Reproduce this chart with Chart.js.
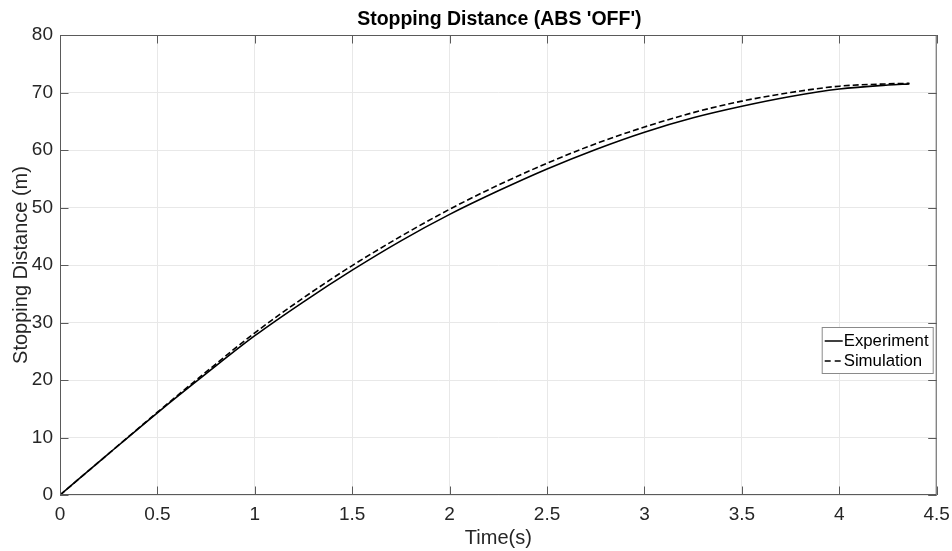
<!DOCTYPE html>
<html>
<head>
<meta charset="utf-8">
<script src="https://cdn.jsdelivr.net/npm/chart.js@4/dist/chart.umd.min.js"></script>
<style>
    html, body { margin: 0; padding: 0; background: #fff; }
</style>
</head>
<body>
<canvas id="stopChart" width="952" height="551"></canvas>
<script>
// data
const timeS = [0, 0.25, 0.5, 0.75, 1.0, 1.25, 1.5, 1.75, 2.0, 2.25, 2.5, 2.75, 3.0, 3.25, 3.5, 3.75, 4.0, 4.25, 4.36];
const experiment = [0, 7.2, 14.3, 21.1, 27.7, 33.6, 39.1, 44.2, 48.8, 52.9, 56.7, 60.1, 63.1, 65.6, 67.6, 69.3, 70.6, 71.3, 71.5];
const simulation = [0, 7.2, 14.4, 21.4, 28.2, 34.3, 39.9, 45.0, 49.7, 53.9, 57.7, 61.1, 64.0, 66.5, 68.5, 70.0, 71.1, 71.5, 71.6];
const xTicks = [0, 0.5, 1, 1.5, 2, 2.5, 3, 3.5, 4, 4.5];
const yTicks = [0, 10, 20, 30, 40, 50, 60, 70, 80];

const FONT = "'Liberation Sans', Arial, sans-serif";
const TXT = "#262626";

function toPoints(xs, ys) {
    return xs.map((x, i) => ({ x: x, y: ys[i] }));
}

// title centred over the axes, like matlab does
const titlePlugin = {
    id: "axTitle",
    afterDraw(chart) {
        const ctx = chart.ctx;
        const a = chart.chartArea;
        ctx.save();
        ctx.font = "bold 19.5px " + FONT;
        ctx.fillStyle = "#000";
        ctx.textAlign = "center";
        ctx.textBaseline = "middle";
        ctx.fillText("Stopping Distance (ABS 'OFF')", (a.left + a.right) / 2 + 1, a.top - 15);
        ctx.restore();
    }
};

// box + inward tick marks on all four sides
const boxPlugin = {
    id: "axBox",
    afterDatasetsDraw(chart) {
        const ctx = chart.ctx;
        const a = chart.chartArea;
        const xs = chart.scales.x, ys = chart.scales.y;
        const len = 8.5;
        ctx.save();
        ctx.strokeStyle = "#5a5a5a";
        ctx.lineWidth = 1;
        ctx.strokeRect(a.left + 0.5, a.top + 0.5, a.right - a.left - 1, a.bottom - a.top - 1);
        ctx.beginPath();
        xTicks.forEach((t) => {
            const px = Math.round(xs.getPixelForValue(t)) + 0.5;
            ctx.moveTo(px, a.bottom); ctx.lineTo(px, a.bottom - len);
            ctx.moveTo(px, a.top); ctx.lineTo(px, a.top + len);
        });
        yTicks.forEach((v) => {
            const py = Math.round(ys.getPixelForValue(v)) + 0.5;
            ctx.moveTo(a.left, py); ctx.lineTo(a.left + len, py);
            ctx.moveTo(a.right, py); ctx.lineTo(a.right - len, py);
        });
        ctx.stroke();
        ctx.restore();
    }
};

// legend box inside the axes, right side
const legendPlugin = {
    id: "axLegend",
    afterDraw(chart) {
        const ctx = chart.ctx;
        const a = chart.chartArea;
        const w = 111, h = 46;
        const x = a.right - 4 - w, y = a.top + 292;
        ctx.save();
        ctx.fillStyle = "#fff";
        ctx.fillRect(x, y, w, h);
        ctx.strokeStyle = "#8a8a8a";
        ctx.lineWidth = 1;
        ctx.strokeRect(x + 0.5, y + 0.5, w, h);
        ctx.font = "16.8px " + FONT;
        ctx.textBaseline = "middle";
        chart.data.datasets.forEach((ds, i) => {
            const cy = y + 14 + i * 20;
            ctx.strokeStyle = "#000";
            ctx.lineWidth = 1.5;
            ctx.setLineDash(ds.borderDash ? [6, 4] : []);
            ctx.beginPath();
            ctx.moveTo(x + 3, cy);
            ctx.lineTo(x + 21, cy);
            ctx.stroke();
            ctx.setLineDash([]);
            ctx.fillStyle = "#000";
            ctx.fillText(ds.label, x + 22, cy);
        });
        ctx.restore();
    }
};

var ctx = document.getElementById("stopChart").getContext("2d");
var stopChart = new Chart(ctx, {
    type: "scatter",
    data: {
        datasets: [
            {
                label: "Experiment",
                data: toPoints(timeS, experiment),
                showLine: true,
                borderColor: "#000",
                borderWidth: 1.6,
                pointRadius: 0,
                cubicInterpolationMode: "monotone",
            },
            {
                label: "Simulation",
                data: toPoints(timeS, simulation),
                showLine: true,
                borderColor: "#000",
                borderWidth: 1.6,
                borderDash: [6, 3],
                pointRadius: 0,
                cubicInterpolationMode: "monotone",
            },
        ],
    },
    options: {
        responsive: false,
        animation: false,
        layout: { padding: { top: 35, right: 15.3, left: 0, bottom: 0 } },
        plugins: {
            legend: { display: false },
            tooltip: { enabled: false },
        },
        scales: {
            x: {
                type: "linear",
                min: 0,
                max: 4.5,
                afterBuildTicks: (s) => { s.ticks = xTicks.map((v) => ({ value: v })); },
                afterFit: (s) => {
                    s.height = 56;
                    s.paddingLeft = 0;
                    s.paddingRight = 0;
                },
                grid: { color: "#e8e8e8", drawTicks: false },
                border: { display: false },
                ticks: {
                    padding: 8,
                    color: TXT,
                    font: { family: FONT, size: 19 },
                    maxRotation: 0,
                    callback: (v) => String(v),
                },
                title: {
                    display: true,
                    text: "Time(s)",
                    color: TXT,
                    font: { family: FONT, size: 20 },
                    padding: { top: 0, bottom: 1 },
                },
            },
            y: {
                min: 0,
                max: 80,
                afterBuildTicks: (s) => { s.ticks = yTicks.map((v) => ({ value: v })); },
                afterFit: (s) => {
                    s.width = 60;
                    s.paddingTop = 0;
                    s.paddingBottom = 0;
                },
                grid: { color: "#e8e8e8", drawTicks: false },
                border: { display: false },
                ticks: {
                    padding: 7,
                    color: TXT,
                    font: { family: FONT, size: 19 },
                    callback: (v) => String(v),
                },
                title: {
                    display: true,
                    text: "Stopping Distance (m)",
                    color: TXT,
                    font: { family: FONT, size: 20 },
                    padding: { top: 9, bottom: 0 },
                },
            },
        },
    },
    plugins: [titlePlugin, boxPlugin, legendPlugin],
});
</script>
</body>
</html>
